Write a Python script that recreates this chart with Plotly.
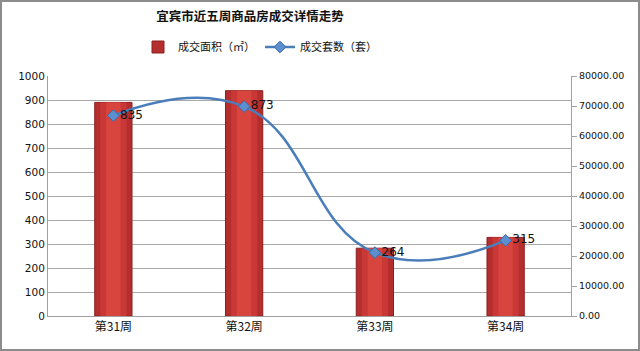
import plotly.graph_objects as go

weeks = ["第31周", "第32周", "第33周", "第34周"]
area = [71200, 75100, 22600, 26200]      # 成交面积（㎡）, right axis
units = [835, 873, 264, 315]             # 成交套数（套）, left axis

W, H = 640, 351
L, R, T, B = 48, 69, 76, 35
pw, ph = W - L - R, H - T - B

cjk = "Noto Sans CJK SC"
num = "DejaVu Sans"

fig = go.Figure()
# layered bars to mimic the shaded columns
fig.add_trace(go.Bar(x=weeks, y=area, width=0.285, name="成交面积（㎡）",
                     marker=dict(color="#B52E2E", line=dict(color="#8E1E1E", width=1)),
                     yaxis="y", showlegend=True))
fig.add_trace(go.Bar(x=weeks, y=area, width=0.2, marker=dict(color="#C93836", line=dict(width=0)),
                     yaxis="y", showlegend=False, hoverinfo="skip"))
fig.add_trace(go.Bar(x=weeks, y=area, width=0.11, marker=dict(color="#D8453F", line=dict(width=0)),
                     yaxis="y", showlegend=False, hoverinfo="skip"))

fig.add_trace(go.Scatter(x=weeks, y=units, name="成交套数（套）", yaxis="y2",
                         mode="lines+markers+text", text=[str(v) for v in units],
                         textposition="middle right",
                         textfont=dict(family=num, size=12, color="#111111"),
                         line=dict(color="#4A7EBB", width=2.5, shape="spline", smoothing=1.3),
                         marker=dict(symbol="diamond", size=9, color="#5B8FD0",
                                     line=dict(color="#3A6AA8", width=1))))

fig.update_layout(
    width=W, height=H, margin=dict(l=L, r=R, t=T, b=B),
    paper_bgcolor="white", plot_bgcolor="white",
    barmode="overlay",
    title=dict(text="<b>宜宾市近五周商品房成交详情走势</b>", x=(250 - L) / pw, xref="paper",
               xanchor="center", y=1 - 17 / H, yanchor="middle",
               font=dict(family=cjk, size=12.5, color="#111111")),
    legend=dict(orientation="h", x=(260 - L) / pw, xanchor="center", y=1 + (T - 47) / ph,
                yanchor="middle", font=dict(family=cjk, size=11, color="#111111"),
                bgcolor="rgba(0,0,0,0)", itemwidth=30),
    xaxis=dict(showline=True, linecolor="#A0A0A0", linewidth=1, ticks="",
               tickfont=dict(family=cjk, size=12, color="#111111"), showgrid=False),
    yaxis=dict(side="right", range=[0, 80000], dtick=10000, tickformat=".2f",
               showgrid=False, showline=True, linecolor="#A0A0A0", linewidth=1,
               ticks="outside", ticklen=5, tickcolor="#A0A0A0",
               tickfont=dict(family=num, size=9.5, color="#111111"), zeroline=False),
    yaxis2=dict(overlaying="y", side="left", range=[0, 1000], dtick=100,
                showgrid=True, gridcolor="#A8A8A8", gridwidth=1,
                showline=True, linecolor="#A0A0A0", linewidth=1, ticks="",
                tickfont=dict(family=num, size=10.5, color="#111111"), zeroline=False),
)

# outer chart frame
fig.add_shape(type="rect", xref="paper", yref="paper",
              x0=(-L + 1) / pw, x1=(W - L - 1) / pw, y0=(-B + 1) / ph, y1=(H - B - 1) / ph,
              line=dict(color="#8C8C8C", width=2), fillcolor="rgba(0,0,0,0)", layer="below")

fig.write_html("out.html")
